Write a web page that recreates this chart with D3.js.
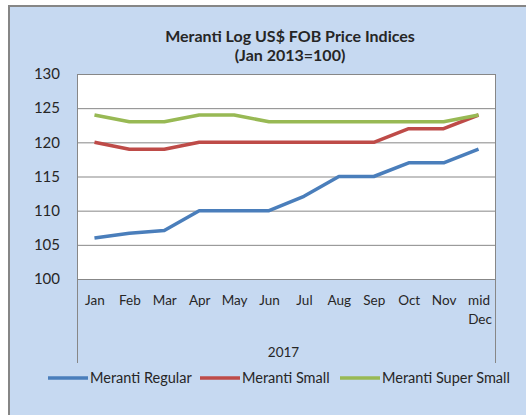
<!DOCTYPE html>
<html>
<head>
<meta charset="utf-8">
<script src="https://cdn.jsdelivr.net/npm/d3@7"></script>
<style>
  body { margin: 0; background: #fff; }
  text { font-family: Lato, "Open Sans", sans-serif; fill: #262626; }
</style>
</head>
<body>
<div id="chart"></div>
<script>
// data
var months = ["Jan", "Feb", "Mar", "Apr", "May", "Jun", "Jul", "Aug", "Sep", "Oct", "Nov", "mid Dec"];
var regular = [106, 106.7, 107.1, 110, 110, 110, 112.1, 115, 115, 117, 117, 119];
var small = [120, 119, 119, 120, 120, 120, 120, 120, 120, 122, 122, 124];
var superSmall = [124, 123, 123, 124, 124, 123, 123, 123, 123, 123, 123, 124];
var yTicks = [100, 105, 110, 115, 120, 125, 130];

var series = [
  {name: "Meranti Regular", values: regular, color: "#4a7ebb"},
  {name: "Meranti Small", values: small, color: "#be4b48"},
  {name: "Meranti Super Small", values: superSmall, color: "#98b954"}
];

var W = 526, H = 415;
var margin = {top: 74, right: 30, bottom: 136, left: 77},
    width = W - margin.left - margin.right,
    height = H - margin.top - margin.bottom;

var svg = d3.select("#chart")
  .append("svg")
    .attr("width", W)
    .attr("height", H);

// outer chart area
svg.append("rect")
  .attr("x", 9).attr("y", 6)
  .attr("width", W).attr("height", H)
  .attr("fill", "#c6d9f1")
  .attr("stroke", "#868686")
  .attr("stroke-width", 2);

svg.append("text")
  .attr("x", 290).attr("y", 42)
  .attr("text-anchor", "middle")
  .style("font-size", "16px").style("font-weight", "bold")
  .text("Meranti Log US$ FOB Price Indices");
svg.append("text")
  .attr("x", 290).attr("y", 61)
  .attr("text-anchor", "middle")
  .style("font-size", "16px").style("font-weight", "bold")
  .text("(Jan 2013=100)");

var g = svg.append("g")
  .attr("transform", "translate(" + margin.left + "," + margin.top + ")");

var x = d3.scalePoint()
  .domain(months)
  .range([0, width])
  .padding(0.5);

var y = d3.scaleLinear()
  .domain([100, 130])
  .range([height, 0]);

// plot area
g.append("rect")
  .attr("width", width).attr("height", height)
  .attr("fill", "#fff");

// gridlines
g.selectAll(".grid")
  .data(yTicks)
  .enter()
  .append("line")
    .attr("x1", 0).attr("x2", width)
    .attr("y1", function(d) { return y(d) + 0.5; })
    .attr("y2", function(d) { return y(d) + 0.5; })
    .attr("stroke", "#878787")
    .attr("stroke-width", 1);

// side borders of plot area, running down through the category labels
g.append("line").attr("x1", 0.5).attr("x2", 0.5).attr("y1", 0).attr("y2", height + 84)
  .attr("stroke", "#878787");
g.append("line").attr("x1", width - 0.5).attr("x2", width - 0.5).attr("y1", 0).attr("y2", height + 84)
  .attr("stroke", "#878787");

// Y axis
var yAxis = g.append("g")
  .call(d3.axisLeft(y).tickValues(yTicks).tickSize(0).tickPadding(17));
yAxis.select(".domain").remove();
yAxis.selectAll("text")
  .style("font-size", "15px")
  .style("font-family", "Lato, sans-serif")
  .attr("fill", "#262626");

// X axis
var xAxis = g.append("g")
  .attr("transform", "translate(0," + height + ")")
  .call(d3.axisBottom(x).tickSize(0).tickPadding(16));
xAxis.select(".domain").remove();
xAxis.selectAll("text")
  .style("font-size", "13.5px")
  .style("font-family", "Lato, sans-serif")
  .attr("fill", "#262626")
  .each(function(d) {
    var parts = d.split(" ");
    if (parts.length > 1) {
      var t = d3.select(this).text(null);
      t.append("tspan").attr("x", 0).text(parts[0]);
      t.append("tspan").attr("x", 1).attr("dy", "1.45em").text(parts[1]);
    }
  });

g.append("text")
  .attr("x", width / 2 - 3).attr("y", height + 78)
  .attr("text-anchor", "middle")
  .style("font-size", "13.5px")
  .text("2017");

// lines
var line = d3.line()
  .x(function(d, i) { return x(months[i]); })
  .y(function(d) { return y(d); });

g.selectAll(".series")
  .data(series)
  .enter()
  .append("path")
    .attr("d", function(d) { return line(d.values); })
    .attr("fill", "none")
    .attr("stroke", function(d) { return d.color; })
    .attr("stroke-width", 3.5)
    .attr("stroke-linejoin", "round");

// legend
var legendX = [48, 200, 340];
var leg = svg.selectAll(".legend")
  .data(series)
  .enter()
  .append("g")
    .attr("transform", function(d, i) { return "translate(" + legendX[i] + ",378)"; });
leg.append("line")
  .attr("x1", 0).attr("x2", 40)
  .attr("stroke", function(d) { return d.color; })
  .attr("stroke-width", 3.5);
leg.append("text")
  .attr("x", 42).attr("y", 5)
  .style("font-size", "14.5px")
  .text(function(d) { return d.name; });
</script>
</body>
</html>
